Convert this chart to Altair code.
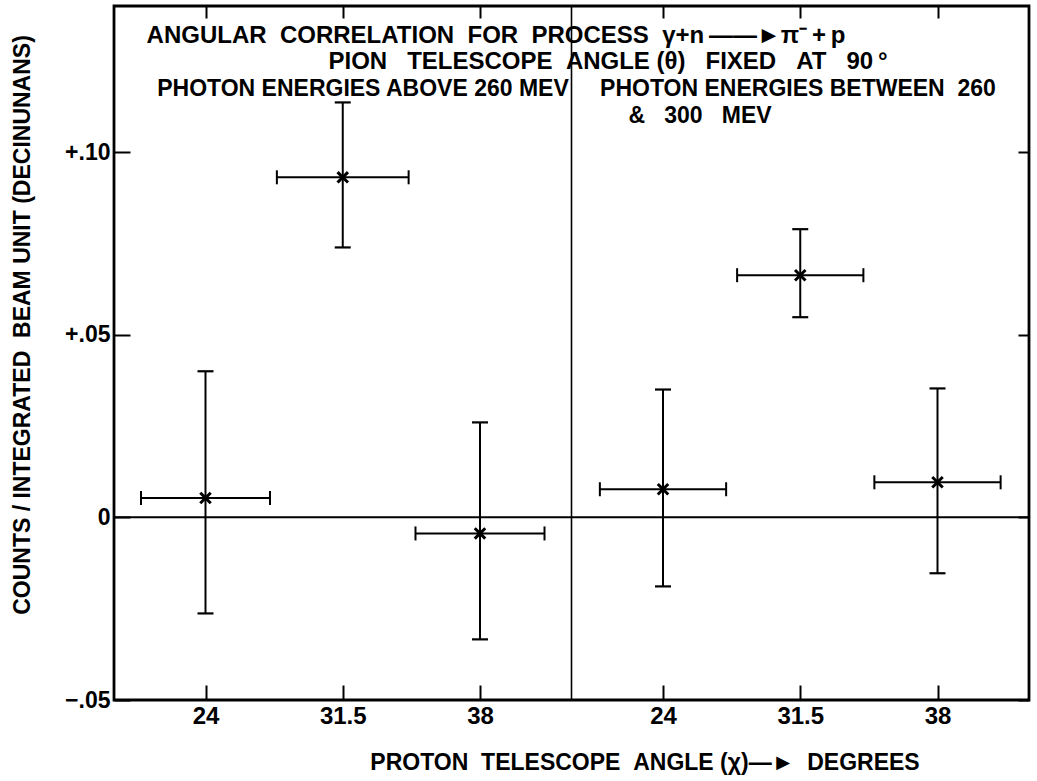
import altair as alt
import pandas as pd

# Proton telescope angles (degrees), same three settings in each energy band
angles = ["24", "31.5", "38"]

# Photon energies above 260 MeV: counts per integrated beam unit with error limits
above_counts = [0.0053, 0.0931, -0.0044]
above_upper = [0.0400, 0.1136, 0.0260]
above_lower = [-0.0263, 0.0739, -0.0334]
# half-width of the angular acceptance, as a fraction of the spacing between settings
above_accept = [0.47, 0.48, 0.47]

# Photon energies between 260 and 300 MeV
between_counts = [0.0077, 0.0663, 0.0096]
between_upper = [0.0350, 0.0789, 0.0353]
between_lower = [-0.0189, 0.0548, -0.0153]
between_accept = [0.46, 0.46, 0.46]

y_ticks = [-0.05, 0.0, 0.05, 0.10]
y_tick_labels = ["\u2212.05", "0", "+.05", "+.10"]

FONT = "Liberation Sans"
S = "\u00a0"

# Each energy band is a panel 10 slots wide; the angles sit at slots 2, 5 and 8.
PANEL = 10
rows = []
x_tick_values, x_tick_labels = [], []
for p, (cnt, up, lo, acc) in enumerate([
    (above_counts, above_upper, above_lower, above_accept),
    (between_counts, between_upper, between_lower, between_accept),
]):
    for i, a in enumerate(angles):
        slot = p * PANEL + 2 + 3 * i
        half = acc[i] * 3
        rows.append(dict(angle=a, slot=slot, count=cnt[i], upper=up[i], lower=lo[i],
                         xlo=slot - half, xhi=slot + half))
        x_tick_values.append(slot)
        x_tick_labels.append(a)
df = pd.DataFrame(rows)

x_expr = " : ".join(f"datum.value == {v} ? '{l}'" for v, l in zip(x_tick_values, x_tick_labels)) + " : ''"
y_expr = " : ".join(f"abs(datum.value - ({v})) < 1e-9 ? '{l}'" for v, l in zip(y_ticks, y_tick_labels)) + " : ''"

xscale = alt.Scale(domain=[0, 2 * PANEL], nice=False, zero=False)
yscale = alt.Scale(domain=[-0.05, 0.14], nice=False, zero=False)

ax_common = dict(domain=False, grid=False, title=None, tickColor="black", tickWidth=2,
                 labelFont=FONT, labelFontWeight="bold", labelColor="black")

x_bottom = alt.X("slot:Q", scale=xscale, axis=alt.Axis(
    orient="bottom", values=x_tick_values, labelExpr=x_expr, tickSize=15, offset=-15,
    labelPadding=4, labelFontSize=24, **ax_common))
y_left = alt.Y("upper:Q", scale=yscale, axis=alt.Axis(
    orient="left", values=y_ticks, labelExpr=y_expr, tickSize=16, offset=-16,
    labelPadding=4, labelFontSize=23, **ax_common))

base = alt.Chart(df)

# vertical error bars carry the bottom and left axes
vbars = base.mark_rule(color="black", strokeWidth=2).encode(x=x_bottom, y=y_left, y2="lower:Q")

# horizontal bars carry the inward ticks along the top and right edges
hbars = base.mark_rule(color="black", strokeWidth=2).encode(
    x=alt.X("xlo:Q", scale=xscale, axis=alt.Axis(
        orient="top", values=x_tick_values, labels=False, tickSize=12, offset=-12, **ax_common)),
    x2="xhi:Q",
    y=alt.Y("count:Q", scale=yscale, axis=alt.Axis(
        orient="right", values=y_ticks, labels=False, tickSize=11, offset=-11, **ax_common)),
)

X = lambda f: alt.X(f, scale=xscale, axis=None)
Y = lambda f: alt.Y(f, scale=yscale, axis=None)

cap_up = base.mark_tick(orient="horizontal", size=16, thickness=2.2, color="black", opacity=1).encode(
    x=X("slot:Q"), y=Y("upper:Q"))
cap_lo = base.mark_tick(orient="horizontal", size=16, thickness=2.2, color="black", opacity=1).encode(
    x=X("slot:Q"), y=Y("lower:Q"))
cap_l = base.mark_tick(orient="vertical", size=14, thickness=2, color="black", opacity=1).encode(
    x=X("xlo:Q"), y=Y("count:Q"))
cap_r = base.mark_tick(orient="vertical", size=14, thickness=2, color="black", opacity=1).encode(
    x=X("xhi:Q"), y=Y("count:Q"))

points = base.mark_point(shape="M-1,-1L1,1M-1,1L1,-1", size=110, strokeWidth=3,
                         filled=False, color="black", opacity=1).encode(
    x=X("slot:Q"), y=Y("count:Q"))

zero_line = alt.Chart(pd.DataFrame({"y": [0.0]})).mark_rule(color="black", strokeWidth=2).encode(
    y=Y("y:Q"))
divider = alt.Chart(pd.DataFrame({"x": [PANEL]})).mark_rule(color="black", strokeWidth=1.6).encode(
    x=X("x:Q"))


def label(text, px, py, size=24, align="center", angle=0):
    return alt.Chart(pd.DataFrame({"t": [text]})).mark_text(
        font=FONT, fontSize=size, fontWeight="bold", color="black", align=align,
        baseline="alphabetic" if angle == 0 else "middle", angle=angle,
    ).encode(text="t:N", x=alt.value(px), y=alt.value(py))


texts = [
    label(f"ANGULAR{S*2}CORRELATION{S*2}FOR{S*2}PROCESS{S*2}\u03b3+n\u2009\u2014\u2014\u25ba\u03c0\u207b\u2009+\u2009p",
          382, 37),
    label(f"PION{S*3}TELESCOPE{S*2}ANGLE (\u03b8){S*3}FIXED{S*3}AT{S*3}90\u2009\u00b0", 494, 63),
    label("PHOTON ENERGIES ABOVE 260 MEV", 249, 90, size=23),
    label(f"PHOTON ENERGIES BETWEEN{S*2}260", 684, 90, size=23),
    label(f"&{S*3}300{S*3}MEV", 586, 117, size=23),
    label(f"PROTON{S*2}TELESCOPE{S*2}ANGLE (\u03c7)\u2014\u25ba{S*2}DEGREES", 531, 764, size=23),
    label(f"COUNTS / INTEGRATED{S*2}BEAM UNIT (DECINUNANS)", -91, 319, size=23, angle=270),
]

chart = alt.layer(
    vbars, hbars, cap_up, cap_lo, cap_l, cap_r, zero_line, divider, points, *texts
).resolve_axis(x="independent", y="independent").properties(
    width=915, height=694,
    autosize=alt.AutoSizeParams(type="none"),
    padding={"left": 114, "top": 6, "right": 8, "bottom": 81},
    background="white",
).configure_view(stroke="black", strokeWidth=2.8)

chart.save("out.html", embed_options={"renderer": "svg", "actions": False})
